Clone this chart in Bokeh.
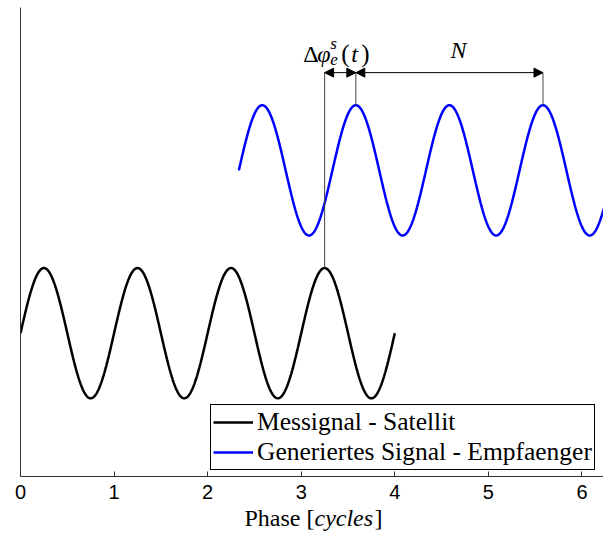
import numpy as np
from bokeh.plotting import figure
from bokeh.layouts import column
from bokeh.models import (Range1d, FixedTicker, Arrow, NormalHead, Label,
                          Legend, LegendItem)
from bokeh.core.properties import value
from bokeh.embed import file_html
from bokeh.resources import INLINE

# --- signal description (phase in cycles) ---
sat_span = [0.0, 4.0]          # satellite signal drawn over these cycles
rec_span = [7 / 3, 6.5]        # receiver replica drawn over these cycles
delta_phi = 1 / 3              # phase offset of the replica, cycles
rec_offset = 2.5               # vertical offset of the replica
amplitude = 1.0

# annotation anchors
sat_peak = 3.25                                   # satellite peak used for Δφ
rec_peaks = [3.25 + delta_phi, 5.25 + delta_phi]  # replica peaks bounding N
arrow_level = 4.0

x_ticks = [0, 1, 2, 3, 4, 5, 6]
x_lim = [0, 6.23]
y_lim = [-2.2, 5.0]
axis_centre = np.pi            # middle of the full 0 .. 2π phase axis

xs_sat = np.linspace(sat_span[0], sat_span[1], 800)
ys_sat = amplitude * np.sin(2 * np.pi * xs_sat)
xs_rec = np.linspace(rec_span[0], rec_span[1], 800)
ys_rec = amplitude * np.sin(2 * np.pi * (xs_rec - delta_phi)) + rec_offset

SERIF = "Liberation Serif"

p = figure(width=603, height=503, output_backend="svg", toolbar_location=None,
           x_range=Range1d(*x_lim), y_range=Range1d(*y_lim),
           min_border_left=20, min_border_right=0, min_border_top=7,
           min_border_bottom=27)
p.outline_line_color = None
p.xgrid.visible = False
p.ygrid.visible = False

# axes
p.xaxis.ticker = FixedTicker(ticks=x_ticks)
p.xaxis.major_tick_in = 5
p.xaxis.major_tick_out = 0
p.xaxis.minor_tick_in = 0
p.xaxis.minor_tick_out = 0
p.xaxis.axis_line_color = "#333333"
p.xaxis.major_tick_line_color = "#333333"
p.xaxis.major_label_text_font = "Liberation Sans"
p.xaxis.major_label_text_font_size = "20px"
p.xaxis.major_label_text_color = "black"
p.xaxis.major_label_standoff = 8

p.yaxis.ticker = FixedTicker(ticks=[])
p.yaxis.major_tick_in = 0
p.yaxis.major_tick_out = 0
p.yaxis.minor_tick_in = 0
p.yaxis.minor_tick_out = 0
p.yaxis.axis_line_color = "#333333"

# signals
r_sat = p.line(xs_sat, ys_sat, line_color="black", line_width=2.5)
r_rec = p.line(xs_rec, ys_rec, line_color="#0000ff", line_width=2.5)

# guide lines from the peaks up to the arrow level
p.segment(x0=[sat_peak] + rec_peaks, y0=[amplitude] + [amplitude + rec_offset] * 2,
          x1=[sat_peak] + rec_peaks, y1=[arrow_level] * 3,
          line_color="#444444", line_width=1)


def head():
    return NormalHead(size=9, fill_color="black", line_color="black")


p.add_layout(Arrow(x_start=sat_peak, y_start=arrow_level,
                   x_end=rec_peaks[0], y_end=arrow_level,
                   start=head(), end=head(), line_color="black", line_width=1))
p.add_layout(Arrow(x_start=rec_peaks[0], y_start=arrow_level,
                   x_end=rec_peaks[1], y_end=arrow_level,
                   start=head(), end=head(), line_color="black", line_width=1))


def piece(x, y, text, dx, dy, size="24px", style="normal"):
    p.add_layout(Label(x=x, y=y, text=text, x_offset=dx, y_offset=dy,
                       text_font=SERIF, text_font_size=size,
                       text_font_style=style, text_color="black",
                       text_align="left", text_baseline="alphabetic"))


# Δφ_e^s(t) label above the short arrow
mid = (sat_peak + rec_peaks[0]) / 2
piece(mid, arrow_level, "Δ", -37, 19)
piece(mid, arrow_level, "φ", -23, 19, style="italic")
piece(mid, arrow_level, "s", -10, 29, size="17px", style="italic")
piece(mid, arrow_level, "e", -10, 13, size="17px", style="italic")
piece(mid, arrow_level, "(", 1, 19, size="25px")
piece(mid, arrow_level, "t", 11, 19, style="italic")
piece(mid, arrow_level, ")", 21, 19, size="25px")

# N label above the long arrow
piece((rec_peaks[0] + rec_peaks[1]) / 2, arrow_level, "N", 1, 23, style="italic")

legend = Legend(items=[LegendItem(label="Messignal - Satellit", renderers=[r_sat]),
                       LegendItem(label="Generiertes Signal - Empfaenger", renderers=[r_rec])],
                location=(190, 6))
legend.label_text_font = SERIF
legend.label_text_font_size = "25.5px"
legend.label_text_color = "black"
legend.glyph_width = 40
legend.glyph_height = 20
legend.label_height = 20
legend.padding = 2
legend.spacing = 0
legend.label_standoff = 4
legend.margin = 0
legend.border_line_color = "black"
legend.border_line_width = 1
legend.border_line_alpha = 1
legend.background_fill_alpha = 1
p.add_layout(legend)

# strip underneath carrying the x-axis title "Phase [cycles]"
t = figure(width=603, height=33, output_backend="svg", toolbar_location=None,
           x_range=p.x_range, y_range=Range1d(0, 1),
           min_border_left=20, min_border_right=0, min_border_top=0,
           min_border_bottom=0)
t.axis.visible = False
t.xgrid.visible = False
t.ygrid.visible = False
t.outline_line_color = None

title_parts = ["Phase [", "cycles", "]"]
title_styles = ["normal", "italic", "normal"]
title_dx = [-70, 0, 60]
t.text(x=[axis_centre] * 3, y=[0.55] * 3, text=title_parts, x_offset=title_dx,
       text_font=value(SERIF), text_font_size=value("24px"),
       text_font_style=title_styles, text_color="black",
       text_align="left", text_baseline="alphabetic")

layout = column(p, t, spacing=0)
open("out.html", "w").write(file_html(layout, INLINE))
